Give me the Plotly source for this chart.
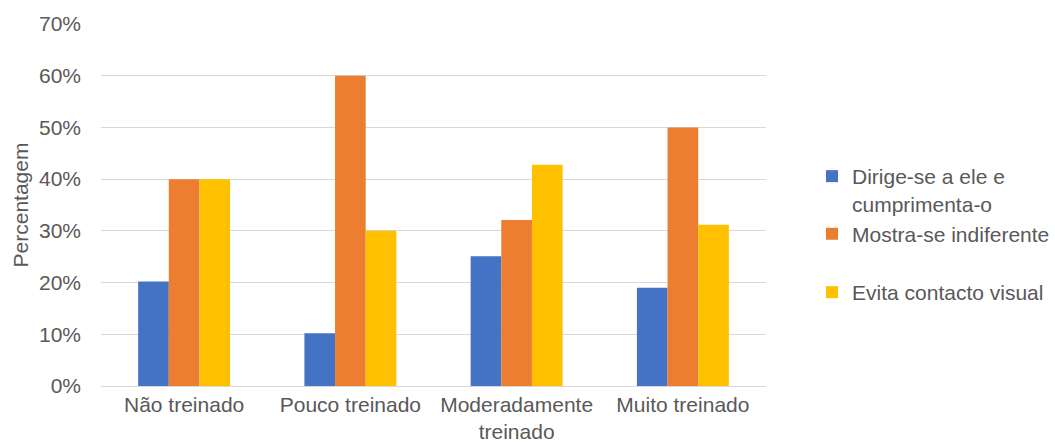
import plotly.graph_objects as go

categories = ["Não treinado", "Pouco treinado", "Moderadamente<br>treinado", "Muito treinado"]
series_names = ["Dirige-se a ele e<br>cumprimenta-o", "Mostra-se indiferente", "Evita contacto visual"]
dirige = [0.202, 0.102, 0.251, 0.190]
indiferente = [0.40, 0.60, 0.321, 0.50]
evita = [0.40, 0.30, 0.428, 0.312]
y_ticks = [0, 0.1, 0.2, 0.3, 0.4, 0.5, 0.6, 0.7]
y_labels = ["0%", "10%", "20%", "30%", "40%", "50%", "60%", "70%"]

colors = ["#4472C4", "#ED7D31", "#FFC000"]
TXT = "#595959"
FONT = "Liberation Sans, Arial, sans-serif"

fig = go.Figure()
for i, (name, vals) in enumerate(zip(series_names, [dirige, indiferente, evita])):
    fig.add_trace(go.Bar(
        x=categories, y=vals, name=name,
        marker=dict(color=colors[i], line=dict(width=0)),
        legend=["legend", "legend2", "legend3"][i],
    ))

H = 362.0
def py(p):
    return (386 - p) / H

leg_common = dict(
    xanchor="left", yanchor="middle", x=(812 - 101) / 665.0,
    font=dict(family=FONT, size=21, color=TXT),
    bgcolor="rgba(0,0,0,0)", borderwidth=0, valign="top",
    itemclick=False, itemdoubleclick=False,
)

fig.update_layout(
    width=1055, height=443,
    margin=dict(l=101, r=289, t=24, b=57, autoexpand=False),
    paper_bgcolor="white", plot_bgcolor="white",
    barmode="group", bargap=0.447, bargroupgap=0,
    font=dict(family=FONT, size=21, color=TXT),
    showlegend=True,
    legend=dict(**leg_common, y=py(190)),
    legend2=dict(**leg_common, y=py(234)),
    legend3=dict(**leg_common, y=py(292.5)),
    xaxis=dict(
        showgrid=False, showline=False, zeroline=False, automargin=False,
        ticks="", ticklabelstandoff=4,
        tickfont=dict(family=FONT, size=21, color=TXT),
    ),
    yaxis=dict(
        range=[0, 0.7], tickvals=y_ticks, ticktext=y_labels, automargin=False,
        showgrid=True, gridcolor="#D9D9D9", gridwidth=1.3,
        zeroline=True, zerolinecolor="#D9D9D9", zerolinewidth=1.3,
        showline=False, ticks="", ticklabelstandoff=19,
        tickfont=dict(family=FONT, size=21, color=TXT),
        title=dict(text="Percentagem", standoff=4,
                   font=dict(family=FONT, size=21, color=TXT)),
    ),
)

fig.write_html("out.html")
